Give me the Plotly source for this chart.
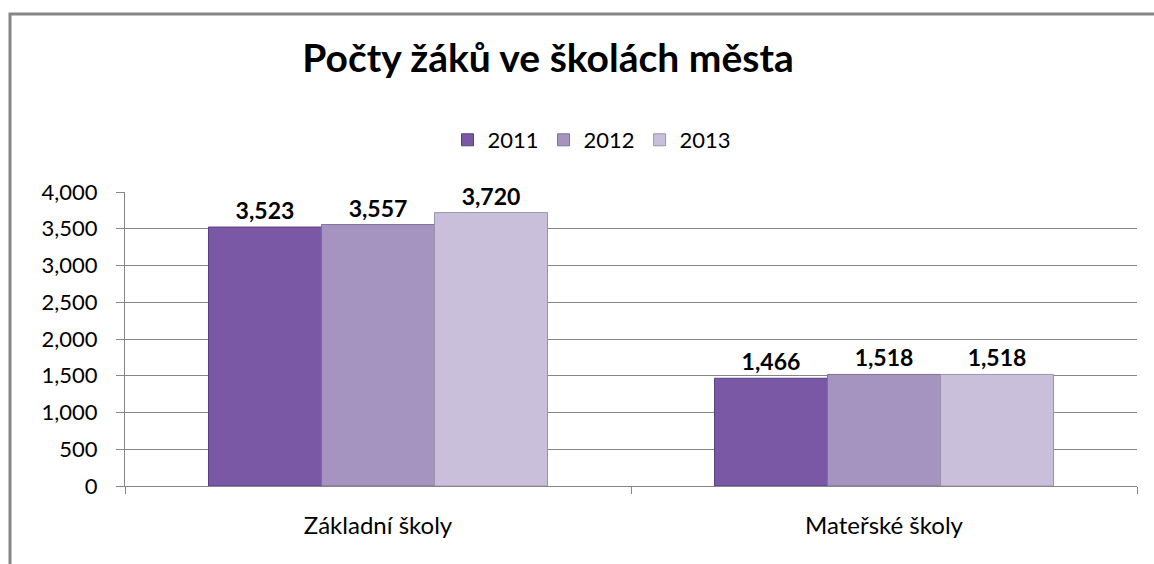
import plotly.graph_objects as go

categories = ["Základní školy", "Mateřské školy"]
years = ["2011", "2012", "2013"]
values_2011 = [3523, 1466]
values_2012 = [3557, 1518]
values_2013 = [3720, 1518]
series = [values_2011, values_2012, values_2013]
colors = ["#7A58A6", "#A594C0", "#C9BFDA"]
edges = ["#5A3F80", "#7F7096", "#9C93AA"]
ytick_vals = [0, 500, 1000, 1500, 2000, 2500, 3000, 3500, 4000]

W, H = 1154, 564
L, R, T, B = 125, 17, 192, 78
pw, ph = W - L - R, H - T - B

FONT = "Lato"

fig = go.Figure()
for name, vals, c, e in zip(years, series, colors, edges):
    fig.add_trace(go.Bar(
        x=categories, y=vals, name=name,
        marker=dict(color=c, line=dict(color=e, width=1)),
        text=[f"{v:,}" for v in vals], textposition="outside",
        textfont=dict(family=FONT, size=23, color="black", weight="bold"),
        cliponaxis=False,
    ))

def px_x(p):
    return (p - L) / pw

def px_y(p):
    return (H - B - p) / ph

fig.add_shape(type="rect", xref="paper", yref="paper",
              x0=px_x(10), x1=px_x(1170), y0=px_y(14), y1=px_y(600),
              line=dict(color="#868686", width=3), fillcolor="rgba(0,0,0,0)", layer="below")

fig.update_layout(
    width=W, height=H,
    margin=dict(l=L, r=R, t=T, b=B, autoexpand=False),
    paper_bgcolor="white", plot_bgcolor="white",
    barmode="group", bargap=0.33, bargroupgap=0,
    title=dict(text="<b>Počty žáků ve školách města</b>", x=548 / W, xanchor="center",
               xref="container", yref="container",
               y=1 - 58 / H, yanchor="middle",
               font=dict(family=FONT, size=39, color="black")),
    legend=dict(orientation="h", x=592 / W, xanchor="center", y=1 - 140 / H, yanchor="middle",
                xref="container", yref="container",
                font=dict(family=FONT, size=22, color="black"),
                itemwidth=30, traceorder="normal"),
    font=dict(family=FONT, color="black"),
)
fig.update_xaxes(showline=True, linecolor="#868686", linewidth=1, automargin=False,
                 ticks="outside", tickson="boundaries", ticklen=7, tickcolor="#868686",
                 tickfont=dict(family=FONT, size=24, color="black"), showgrid=False,
                 ticklabelstandoff=18)
fig.update_yaxes(range=[0, 4000], tickvals=ytick_vals, tickformat=",", automargin=False,
                 showline=True, linecolor="#868686", linewidth=1,
                 ticks="outside", ticklen=8, tickcolor="#868686",
                 showgrid=True, gridcolor="#868686", gridwidth=1,
                 tickfont=dict(family=FONT, size=22, color="black"),
                 ticklabelstandoff=14, zeroline=False)

fig.write_html("out.html", config={"displayModeBar": False},
               post_script="document.body.style.margin='0';document.body.style.padding='0';")
